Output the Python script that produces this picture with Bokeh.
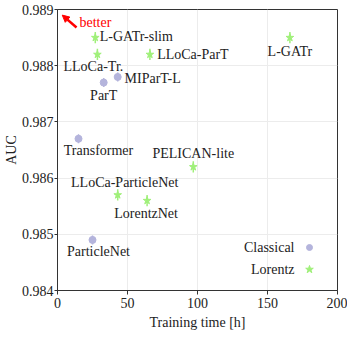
from bokeh.plotting import figure
from bokeh.models import Arrow, NormalHead, Label, FixedTicker, Range1d
from bokeh.embed import file_html
from bokeh.resources import INLINE

# Data
classical_names = ["ParT", "MIParT-L", "Transformer", "ParticleNet"]
classical_time = [33, 43, 15, 25]
classical_auc = [0.9877, 0.9878, 0.9867, 0.9849]
classical_err = [0.00008, 0.00008, 0.00008, 0.00008]

lorentz_names = ["L-GATr-slim", "LLoCa-Tr.", "LLoCa-ParT", "L-GATr", "PELICAN-lite",
                 "LLoCa-ParticleNet", "LorentzNet"]
lorentz_time = [27, 28.5, 66, 166, 97, 43, 64]
lorentz_auc = [0.9885, 0.9882, 0.9882, 0.9885, 0.9862, 0.9857, 0.9856]
lorentz_err = [0.0001, 0.0001, 0.0001, 0.0001, 0.0001, 0.0001, 0.0001]

x_ticks = [0, 50, 100, 150, 200]
y_ticks = [0.984, 0.985, 0.986, 0.987, 0.988, 0.989]

FONT = "Liberation Serif"
FS = "14px"
C_CLASS = "#b4b4dc"
C_LOR = "#a0f07a"
TXT = "#222222"

p = figure(frame_width=280, frame_height=281, output_backend="svg", toolbar_location=None,
           x_range=Range1d(0, 200), y_range=Range1d(0.984, 0.989),
           min_border_left=46, min_border_right=10, min_border_top=9, min_border_bottom=40)
p.background_fill_color = "white"
p.outline_line_color = "#333333"
p.outline_line_width = 1

for ax in (p.xaxis, p.yaxis):
    ax.axis_label_text_font = FONT
    ax.major_label_text_font = FONT
    ax.axis_label_text_font_size = FS
    ax.major_label_text_font_size = FS
    ax.axis_label_text_font_style = "normal"
    ax.axis_label_text_color = TXT
    ax.major_label_text_color = TXT
    ax.minor_tick_line_color = None
    ax.major_tick_in = 0
    ax.major_tick_out = 4
    ax.axis_line_color = "#333333"
    ax.major_tick_line_color = "#333333"

p.yaxis.major_tick_out = 3
p.xaxis.axis_label = "Training time [h]"
p.yaxis.axis_label = "AUC"
p.xaxis.ticker = FixedTicker(ticks=x_ticks)
p.yaxis.ticker = FixedTicker(ticks=y_ticks)
p.yaxis.formatter.use_scientific = False
p.yaxis.major_label_standoff = 1
p.yaxis.axis_label_standoff = 0
p.xaxis.major_label_standoff = 3
p.xaxis.axis_label_standoff = 4
p.xgrid.ticker = FixedTicker(ticks=x_ticks)
p.ygrid.ticker = FixedTicker(ticks=y_ticks)
p.grid.grid_line_color = "#ececec"
p.grid.grid_line_width = 1

# error bars
p.segment(x0=classical_time, x1=classical_time,
          y0=[a - e for a, e in zip(classical_auc, classical_err)],
          y1=[a + e for a, e in zip(classical_auc, classical_err)],
          line_color=C_CLASS, line_width=1.5)
p.segment(x0=lorentz_time, x1=lorentz_time,
          y0=[a - e for a, e in zip(lorentz_auc, lorentz_err)],
          y1=[a + e for a, e in zip(lorentz_auc, lorentz_err)],
          line_color=C_LOR, line_width=1.5)

p.scatter(classical_time, classical_auc, marker="circle", size=7,
          fill_color=C_CLASS, line_color=C_CLASS)
p.scatter(lorentz_time, lorentz_auc, marker="star", size=8,
          fill_color=C_LOR, line_color=C_LOR)

# label offsets in screen px (dx right, dy down) from the point
class_label_off = [(0, 13), (35, 2), (20, 12), (6, 12)]
lor_label_off = [(41, -1), (-4, 12), (43, 0), (0, 14), (0, -13), (7, -12), (-1, 13)]

for names, xs, ys, offs in ((classical_names, classical_time, classical_auc, class_label_off),
                            (lorentz_names, lorentz_time, lorentz_auc, lor_label_off)):
    for n, x, y, (dx, dy) in zip(names, xs, ys, offs):
        p.add_layout(Label(x=x, y=y, text=n, x_offset=dx, y_offset=-dy,
                           text_font=FONT, text_font_size=FS, text_color=TXT,
                           text_align="center", text_baseline="middle"))

# "better" arrow
p.add_layout(Arrow(end=NormalHead(size=7, fill_color="red", line_color="red"),
                   x_start=13.6, y_start=0.98868, x_end=3.4, y_end=0.98890,
                   line_color="red", line_width=2.5))
p.add_layout(Label(x=15.7, y=0.98877, text="better", text_font=FONT, text_font_size=FS,
                   text_color="red", text_align="left", text_baseline="middle"))

# legend (label left of marker)
legend_names = ["Classical", "Lorentz"]
legend_y = [0.984765, 0.984374]
legend_x = 180
p.scatter([legend_x], [legend_y[0]], marker="circle", size=6, fill_color=C_CLASS, line_color=C_CLASS)
p.scatter([legend_x], [legend_y[1]], marker="star", size=8, fill_color=C_LOR, line_color=C_LOR)
for n, y in zip(legend_names, legend_y):
    p.add_layout(Label(x=legend_x, y=y, text=n, x_offset=-15, text_font=FONT,
                       text_font_size=FS, text_color=TXT,
                       text_align="right", text_baseline="middle"))

open("out.html", "w").write(file_html(p, INLINE))
